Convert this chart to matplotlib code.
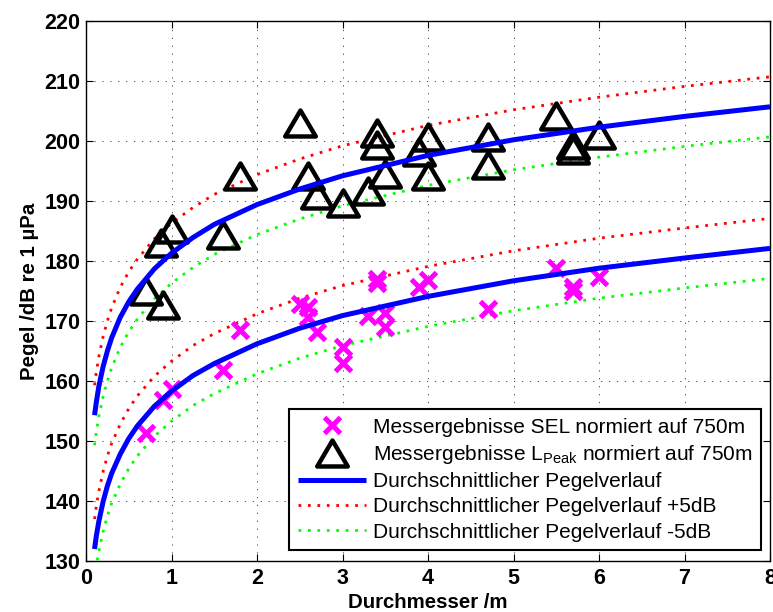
import numpy as np
import matplotlib
matplotlib.use("Agg")
import matplotlib.pyplot as plt
from matplotlib.path import Path

plt.rcParams['font.family'] = ['Liberation Sans', 'DejaVu Sans']
plt.rcParams['mathtext.default'] = 'regular'

# --- data -------------------------------------------------------------
sel_x = [0.7, 0.9, 1.0, 1.6, 1.8, 2.5, 2.6, 2.6, 2.7, 3.0, 3.0, 3.3, 3.4, 3.4,
         3.5, 3.5, 3.9, 4.0, 4.7, 5.5, 5.7, 5.7, 6.0]
sel_y = [151.3, 156.8, 158.6, 161.8, 168.5, 172.9, 172.4, 170.7, 168.2, 165.7,
         163.0, 170.9, 177.0, 176.4, 171.4, 169.0, 175.6, 176.9, 172.0, 178.8,
         175.7, 175.0, 177.3]

peak_x = [0.7, 0.9, 0.88, 1.0, 1.6, 1.8, 2.5, 2.6, 2.7, 3.0, 3.3, 3.4, 3.4, 3.5,
          3.9, 4.0, 4.0, 4.7, 4.7, 5.5, 5.7, 5.7, 6.0]
peak_y = [175.0, 172.6, 183.0, 185.4, 184.3, 194.2, 203.0, 194.2, 191.0, 189.7,
          191.6, 201.3, 199.3, 194.5, 198.1, 200.7, 194.1, 200.7, 196.0, 204.2,
          199.3, 198.5, 201.0]

curve_x = [0.1, 0.12, 0.15, 0.2, 0.25, 0.3, 0.4, 0.5, 0.6, 0.8, 1.0, 1.25, 1.5,
           2.0, 2.5, 3.0, 4.0, 5.0, 6.0, 7.0, 8.0]
sel_mean = [132.0, 134.1, 136.6, 139.9, 142.5, 144.6, 147.8, 150.4, 152.5, 155.8,
            158.3, 160.9, 162.9, 166.2, 168.8, 170.9, 174.1, 176.7, 178.8, 180.5, 182.1]
peak_mean = [154.3, 156.4, 159.1, 162.4, 165.0, 167.2, 170.6, 173.2, 175.3, 178.7,
             181.3, 183.9, 186.1, 189.4, 192.0, 194.2, 197.6, 200.2, 202.3, 204.1, 205.7]
offset_db = 5

labels = ['Messergebnisse SEL normiert auf 750m',
          'Messergebnisse L$_{Peak}$ normiert auf 750m',
          'Durchschnittlicher Pegelverlauf',
          'Durchschnittlicher Pegelverlauf +5dB',
          'Durchschnittlicher Pegelverlauf -5dB']
xticks = [0, 1, 2, 3, 4, 5, 6, 7, 8]
yticks = [130, 140, 150, 160, 170, 180, 190, 200, 210, 220]

# --- figure -----------------------------------------------------------
fig = plt.figure(figsize=(7.73, 6.12), dpi=100)
ax = fig.add_axes([86/773, 51/612, 684/773, 540/612])

cx = np.array(curve_x)
sm = np.array(sel_mean)
pm = np.array(peak_mean)

tri = Path([(0, 0.85), (-1, -0.85), (1, -0.85), (0, 0.85)],
           [Path.MOVETO, Path.LINETO, Path.LINETO, Path.CLOSEPOLY])

h_sel, = ax.plot(sel_x, sel_y, linestyle='none', marker='x', color=(1, 0, 1),
                 markersize=12, markeredgewidth=3.6, zorder=3)
h_peak, = ax.plot(peak_x, peak_y, linestyle='none', marker=tri, markersize=22,
                  markerfacecolor='none', markeredgecolor='black',
                  markeredgewidth=3.2, zorder=3)

dots = (0, (1.0, 2.4))
for m in (pm, sm):
    h_mean, = ax.plot(cx, m, color=(0, 0, 1), linewidth=3.6, zorder=4,
                      solid_capstyle='butt')
    h_up, = ax.plot(cx, m + offset_db, color=(1, 0, 0), linewidth=2.0,
                    linestyle=dots, zorder=2)
    h_dn, = ax.plot(cx, m - offset_db, color=(0, 1, 0), linewidth=2.0,
                    linestyle=dots, zorder=2)

ax.set_xlim(0, 8)
ax.set_ylim(130, 220)
ax.set_xticks(xticks)
ax.set_yticks(yticks)
ax.grid(True, color='#333333', linewidth=0.6, linestyle=(0, (1.5, 8)))
ax.tick_params(direction='in', top=True, right=True, length=5, width=0.8,
               labelsize=15.5)
ax.tick_params(axis='x', pad=5)
ax.tick_params(axis='y', pad=4)
for lab in ax.get_xticklabels() + ax.get_yticklabels():
    lab.set_fontweight('bold')
for s in ax.spines.values():
    s.set_linewidth(1.0)
    s.set_color('black')

ax.set_xlabel('Durchmesser /m', fontsize=14.7, fontweight='bold', labelpad=3)
ax.set_ylabel('Pegel /dB re 1 µPa', fontsize=14.7, fontweight='bold', labelpad=4)

leg = ax.legend([h_sel, h_peak, h_mean, h_up, h_dn], labels,
                loc='lower right', bbox_to_anchor=(0.9868, 0.0204),
                borderaxespad=0, fontsize=15, fancybox=False, framealpha=1,
                edgecolor='black', handlelength=3.3, handletextpad=0.33,
                labelspacing=0.3, borderpad=0.4)
leg.get_frame().set_linewidth(1.5)

fig.savefig('out.png', dpi=100)
